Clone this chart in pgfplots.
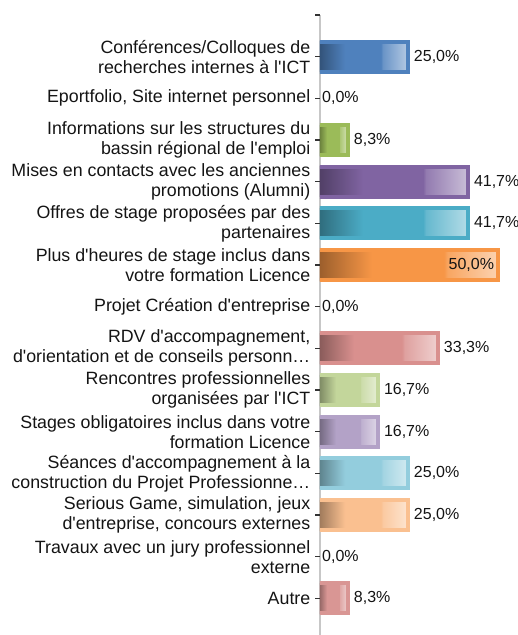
\documentclass[border=0pt]{standalone}
\usepackage{pgfplots}
\pgfplotsset{compat=1.18}
\usepackage{fontspec}
\setmainfont{Liberation Sans}
\newcommand\q{\textquotesingle}
\definecolor{cA}{HTML}{4F81BD}
\definecolor{cB}{HTML}{9BBB59}
\definecolor{cC}{HTML}{8064A2}
\definecolor{cD}{HTML}{4BACC6}
\definecolor{cE}{HTML}{F79646}
\definecolor{cF}{HTML}{D9908E}
\definecolor{cG}{HTML}{C3D69B}
\definecolor{cH}{HTML}{B3A2C7}
\definecolor{cI}{HTML}{93CDDD}
\definecolor{cJ}{HTML}{FAC090}
\definecolor{cK}{HTML}{D99694}
\newcommand\defsh[1]{\pgfdeclarehorizontalshading{sh#1}{100bp}{color(0bp)=(#1!62!black); color(25bp)=(#1!62!black); color(40bp)=(#1); color(60bp)=(#1); color(61bp)=(#1!85!white); color(75bp)=(#1!42!white); color(100bp)=(#1!42!white)}}
\defsh{cA}\defsh{cB}\defsh{cC}\defsh{cD}\defsh{cE}\defsh{cF}\defsh{cG}\defsh{cH}\defsh{cI}\defsh{cJ}\defsh{cK}
\newcommand\vlab{\pgfmathprintnumber[fixed,fixed zerofill,precision=1,use comma,assume math mode=true]{\pgfplotspointmeta}\%}
\newcommand\mybar[4]{\addplot[xbar, bar width=30pt, bar shift=0pt, draw=#3, line width=4pt, shade, shading=sh#3, xshift=-2pt,
  point meta=x, nodes near coords={\vlab}, nodes near coords style={#4}] coordinates {(#2,#1)};}
\newcommand\zbar[1]{\addplot[xbar, bar width=30pt, bar shift=0pt, draw=none, fill=none,
  point meta=x, nodes near coords={\vlab}, nodes near coords style={xshift=-2pt}] coordinates {(0,#1)};}
\begin{document}
\begin{tikzpicture}
\begin{axis}[
  name=ax, scale only axis, width=187.2pt, height=620pt,
  xmin=0, xmax=52, ymin=0, ymax=14.88, y dir=reverse,
  axis x line=none, axis y line*=left,
  axis line style={draw=black!22, line width=1.6pt},
  ytick={0,...,14},
  yticklabels={{},
    {Conférences/Colloques de\\recherches internes à l\q ICT},
    {Eportfolio, Site internet personnel},
    {Informations sur les structures du\\bassin régional de l\q emploi},
    {Mises en contacts avec les anciennes\\promotions (Alumni)},
    {Offres de stage proposées par des\\partenaires},
    {Plus d\q heures de stage inclus dans\\votre formation Licence},
    {Projet Création d\q entreprise},
    {RDV d\q accompagnement,\\d\q orientation et de conseils personn…},
    {Rencontres professionnelles\\organisées par l\q ICT},
    {Stages obligatoires inclus dans votre\\formation Licence},
    {Séances d\q accompagnement à la\\construction du Projet Professionne…},
    {Serious Game, simulation, jeux\\d\q entreprise, concours externes},
    {Travaux avec un jury professionnel\\externe},
    {Autre}},
  ytick pos=left, tick align=outside, major tick length=4.5pt,
  tick style={draw=black!80, line width=1.1pt},
  yticklabel style={align=right, font=\fontsize{17.8}{20}\selectfont, text=black!92, inner ysep=0pt, inner xsep=5pt},
  every node near coord/.style={font=\fontsize{16}{19}\selectfont, text=black!92, anchor=west, inner sep=0pt, xshift=4pt},
]
\mybar{1}{25}{cA}{}
\zbar{2}
\mybar{3}{8.33}{cB}{}
\mybar{4}{41.67}{cC}{}
\mybar{5}{41.67}{cD}{}
\mybar{6}{50}{cE}{anchor=east, xshift=-6pt}
\zbar{7}
\mybar{8}{33.33}{cF}{}
\mybar{9}{16.67}{cG}{}
\mybar{10}{16.67}{cH}{}
\mybar{11}{25}{cI}{}
\mybar{12}{25}{cJ}{}
\zbar{13}
\mybar{14}{8.33}{cK}{}
\addplot[forget plot, only marks, mark=-, mark size=2.25pt, draw=black!80,
  mark options={draw=black!80, line width=1.1pt, xshift=-2.25pt}]
  coordinates {(0,0) (0,1) (0,2) (0,3) (0,4) (0,5) (0,6) (0,7) (0,8) (0,9) (0,10) (0,11) (0,12) (0,13) (0,14)};
\end{axis}
\pgfresetboundingbox
\path (ax.south west) ++(-320pt,0pt) rectangle ++(518pt,635pt);
\end{tikzpicture}
\end{document}
